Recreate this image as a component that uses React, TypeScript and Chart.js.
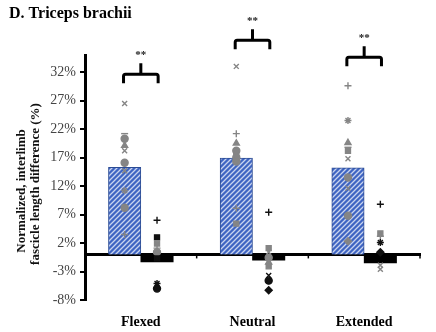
import React, { useEffect, useRef } from 'react';
import { Chart, registerables } from 'chart.js';

Chart.register(...registerables);

// ---- data ----
const categories = ['Flexed', 'Neutral', 'Extended'];
const meanHigh = [15.3, 16.9, 15.2];
const meanLow = [-1.3, -1.0, -1.5];
const yTicks = [-8, -3, 2, 7, 12, 17, 22, 27, 32];
const bracketLevels = [31.6, 37.6, 34.6];

const flexedHigh = [26.5, 21.2, 20.3, 19.1, 18.2, 16.1, 14.7, 11.2, 8.2, 3.5];
const flexedHighShapes = ['crossRot', 'line', 'circle', 'triangle', 'crossRot', 'circle', 'crossRot', 'star', 'circle', 'cross'];
const flexedLow = [6.0, 3.0, 1.9, 1.1, 0.4, -0.3, -0.7, -5.1, -6.0];
const flexedLowShapes = ['cross', 'rect', 'rect', 'cross', 'circle', 'crossRot', 'rect', 'star', 'circle'];
const flexedLowDark = [true, true, false, false, false, false, true, true, true];

const neutralHigh = [33.0, 21.2, 19.5, 18.2, 17.7, 17.0, 16.3, 8.1, 5.4];
const neutralHighShapes = ['crossRot', 'cross', 'triangle', 'circle', 'rect', 'circle', 'circle', 'cross', 'rect'];
const neutralLow = [7.4, 1.1, 0.4, -0.6, -1.4, -2.1, -3.7, -4.6, -6.3];
const neutralLowShapes = ['cross', 'rect', 'crossRot', 'circle', 'triangle', 'rect', 'crossRot', 'circle', 'rectRot'];
const neutralLowDark = [true, false, false, false, false, false, true, true, true];

const extendedHigh = [29.6, 23.5, 19.6, 18.8, 18.2, 16.8, 13.5, 11.6, 6.8, 2.3];
const extendedHighShapes = ['cross', 'star', 'triangle', 'line', 'rect', 'crossRot', 'circle', 'crossRot', 'circle', 'rectRot'];
const extendedLow = [8.8, 3.7, 3.2, 2.1, 0.4, -1.9, -2.6];
const extendedLowShapes = ['cross', 'rect', 'cross', 'star', 'rectRot', 'crossRot', 'crossRot'];
const extendedLowDark = [true, false, false, true, true, false, false];

const GRAY = '#858585';
const DARK = '#111111';
const SERIF = "'Liberation Serif', 'DejaVu Serif', serif";
const BAR_OFFSET = 0.145;

function makePattern(): CanvasPattern | string {
  const c = document.createElement('canvas');
  c.width = 5;
  c.height = 5;
  const g = c.getContext('2d');
  if (!g) return '#4a6fc4';
  g.fillStyle = '#3f65c2';
  g.fillRect(0, 0, 5, 5);
  g.strokeStyle = '#c8d4ef';
  g.lineWidth = 1.3;
  g.beginPath();
  g.moveTo(0, 5); g.lineTo(5, 0);
  g.moveTo(-1, 1); g.lineTo(1, -1);
  g.moveTo(4, 6); g.lineTo(6, 4);
  g.stroke();
  const p = g.createPattern(c, 'repeat');
  return p || '#4a6fc4';
}

function scatterSet(values: number[], shapes: string[], cat: number, side: number, dark?: boolean[]) {
  const colors = values.map((_, k) => (dark && dark[k] ? DARK : GRAY));
  return {
    type: 'scatter' as const,
    order: 1,
    data: values.map((v) => ({ x: cat + side * BAR_OFFSET, y: v })),
    pointStyle: shapes,
    pointRadius: 3.5,
    pointBorderWidth: 1.4,
    pointBackgroundColor: colors,
    pointBorderColor: colors,
  };
}

const decorPlugin = {
  id: 'decor',
  beforeDatasetsDraw(chart: any) {
    const { ctx, chartArea, scales } = chart;
    const y0 = scales.y.getPixelForValue(0);
    ctx.save();
    ctx.strokeStyle = '#000';
    ctx.lineWidth = 3;
    ctx.beginPath();
    ctx.moveTo(chartArea.left, y0);
    ctx.lineTo(chartArea.right + 1, y0);
    ctx.stroke();
    ctx.lineWidth = 1.5;
    for (let i = 1; i <= categories.length; i++) {
      const xb = scales.x.getPixelForValue(i - 0.5);
      ctx.beginPath();
      ctx.moveTo(xb, y0);
      ctx.lineTo(xb, y0 + 4);
      ctx.stroke();
    }
    ctx.restore();
  },
  afterDraw(chart: any) {
    const { ctx, scales } = chart;
    ctx.save();
    ctx.fillStyle = '#000';
    ctx.font = `bold 16px ${SERIF}`;
    ctx.textAlign = 'left';
    ctx.textBaseline = 'alphabetic';
    ctx.fillText('D. Triceps brachii', 9, 18);
    ctx.font = `bold 13px ${SERIF}`;
    ctx.textAlign = 'center';
    ctx.textBaseline = 'middle';
    ctx.fillStyle = '#111';
    ctx.save();
    ctx.translate(22, 191);
    ctx.rotate(-Math.PI / 2);
    ctx.fillText('Normalized, interlimb', 0, 0);
    ctx.restore();
    ctx.save();
    ctx.translate(36, 184);
    ctx.rotate(-Math.PI / 2);
    ctx.fillText('fascicle length difference (%)', 0, 0);
    ctx.restore();
    categories.forEach((_, i) => {
      const cx = scales.x.getPixelForValue(i);
      const xl = scales.x.getPixelForValue(i - BAR_OFFSET - 0.01);
      const xr = scales.x.getPixelForValue(i + BAR_OFFSET + 0.01);
      const yh = scales.y.getPixelForValue(bracketLevels[i]);
      ctx.strokeStyle = '#000';
      ctx.lineWidth = 3;
      ctx.lineJoin = 'round';
      ctx.beginPath();
      ctx.moveTo(xl, yh + 9);
      ctx.lineTo(xl, yh + 2);
      ctx.quadraticCurveTo(xl, yh, xl + 2, yh);
      ctx.lineTo(xr - 2, yh);
      ctx.quadraticCurveTo(xr, yh, xr, yh + 2);
      ctx.lineTo(xr, yh + 9);
      ctx.moveTo(cx, yh);
      ctx.lineTo(cx, yh - 11);
      ctx.stroke();
      ctx.fillStyle = '#222';
      ctx.font = `bold 11px ${SERIF}`;
      ctx.textAlign = 'center';
      ctx.textBaseline = 'middle';
      ctx.fillText('**', cx, yh - 19);
    });
    ctx.restore();
  },
};

export default function App() {
  const ref = useRef<HTMLCanvasElement | null>(null);
  useEffect(() => {
    if (!ref.current) return;
    const pattern = makePattern();
    const chart = new Chart(ref.current, {
      type: 'bar',
      data: {
        datasets: [
          {
            type: 'bar',
            data: meanHigh.map((v, i) => ({ x: i - BAR_OFFSET, y: v })),
            backgroundColor: pattern as any,
            borderColor: '#2c4c94',
            borderWidth: 1,
            grouped: false,
            barPercentage: 1,
            categoryPercentage: 1,
            order: 2,
          },
          {
            type: 'bar',
            data: meanLow.map((v, i) => ({ x: i + BAR_OFFSET, y: v })),
            backgroundColor: '#000',
            borderColor: '#000',
            borderWidth: 0,
            grouped: false,
            barPercentage: 1,
            categoryPercentage: 1,
            order: 2,
          },
          scatterSet(flexedHigh, flexedHighShapes, 0, -1),
          scatterSet(flexedLow, flexedLowShapes, 0, 1, flexedLowDark),
          scatterSet(neutralHigh, neutralHighShapes, 1, -1),
          scatterSet(neutralLow, neutralLowShapes, 1, 1, neutralLowDark),
          scatterSet(extendedHigh, extendedHighShapes, 2, -1),
          scatterSet(extendedLow, extendedLowShapes, 2, 1, extendedLowDark),
        ] as any,
      },
      options: {
        animation: false,
        responsive: false,
        maintainAspectRatio: false,
        layout: { padding: { top: 55, right: 16, bottom: 0, left: 0 } },
        plugins: { legend: { display: false }, tooltip: { enabled: false }, title: { display: false } },
        scales: {
          x: {
            type: 'linear',
            min: -0.5,
            max: 2.5,
            offset: false,
            afterBuildTicks: (s: any) => { s.ticks = categories.map((_, i) => ({ value: i })); },
            grid: { display: false },
            border: { display: false },
            ticks: {
              color: '#000',
              padding: 6,
              autoSkip: false,
              maxRotation: 0,
              font: { family: SERIF, size: 14, weight: 'bold' },
              callback: (v: any) => categories[Math.round(Number(v))] ?? '',
            },
            afterFit: (s: any) => { s.height = 32; },
          },
          y: {
            type: 'linear',
            min: -8,
            max: 35,
            afterBuildTicks: (s: any) => { s.ticks = yTicks.map((v) => ({ value: v })); },
            grid: { drawOnChartArea: false, drawTicks: true, tickLength: 5, color: '#000', lineWidth: 2 },
            border: { display: true, color: '#000', width: 3 },
            ticks: {
              color: '#444',
              padding: 4,
              font: { family: SERIF, size: 14 },
              callback: (v: any) => `${v}%`,
            },
            afterFit: (s: any) => { s.width = 85; },
          },
        },
      } as any,
      plugins: [decorPlugin],
    });
    return () => chart.destroy();
  }, []);
  return (
    <div style={{ position: 'fixed', left: 0, top: 0, width: 436, height: 332, background: '#fff' }}>
      <canvas ref={ref} width={436} height={332} style={{ width: 436, height: 332 }} />
    </div>
  );
}
